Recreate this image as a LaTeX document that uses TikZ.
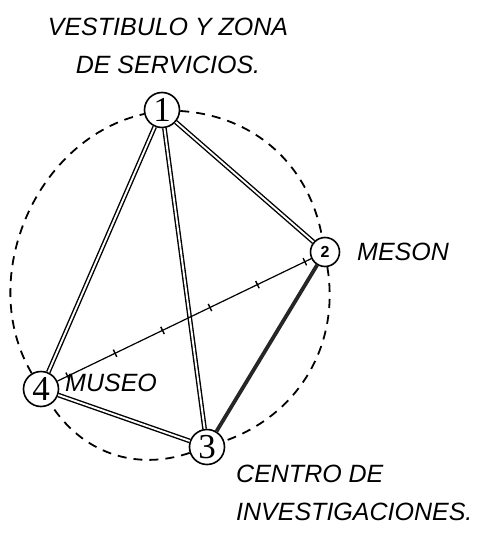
\documentclass[tikz,border=0pt]{standalone}
\usepackage{fontspec}
\setmainfont{Liberation Sans}
\newfontfamily\digitfont{Liberation Serif}
\usetikzlibrary{decorations.markings}

\begin{document}
\begin{tikzpicture}[
    x=1pt, y=-1pt,
    zone/.style={circle, draw, line width=1.6pt, fill=white, inner sep=0pt, minimum size=35pt, font=\digitfont\fontsize{35}{35}\selectfont},
    smallzone/.style={zone, minimum size=29pt, font=\bfseries\fontsize{16}{16}\selectfont},
    tag/.style={font=\itshape\fontsize{25}{38}\selectfont, inner sep=0pt},
    strong/.style={double, double distance=1.9pt, line width=1.4pt},
    heavy/.style={line width=3.8pt, black!85},
    weak/.style={line width=1.2pt, postaction={decorate}, decoration={markings, mark=between positions 0.04 and 0.98 step 0.187 with {\draw[line width=1.4pt] (0,-4pt) -- (0,4pt);}}},
    ring/.style={dash pattern=on 9pt off 7pt, line width=1.8pt}
  ]
    \useasboundingbox (0,0) rectangle (491,538);

    % Zonas
    \node[zone] (vestibulo) at (162,110) {1};
    \node[smallzone] (meson) at (325,252) {2};
    \node[zone] (centro) at (207,447) {3};
    \node[zone] (museo) at (41,389) {4};

    % Textos
    \node[tag, align=center] (vestibuloTag) at (168,46) {VESTIBULO Y ZONA\\DE SERVICIOS.};
    \node[tag, anchor=west] (mesonTag) at (357,252) {MESON};
    \node[tag, anchor=west] (museoTag) at (65,383) {MUSEO};
    \node[tag, align=left, anchor=north west] (centroTag) at (236,465) {CENTRO DE\\INVESTIGACIONES.};

    % Relaciones
    \draw[strong] (vestibulo) -- (museo);
    \draw[strong] (vestibulo) -- (centro);
    \draw[strong] (vestibulo) -- (meson);
    \draw[strong] (museo) -- (centro);
    \draw[heavy] (meson) -- (centro);
    \draw[weak] (museo) -- (meson);

    % Circulo punteado
    \draw[ring] (vestibulo) to[bend left=38] (meson);
    \draw[ring] (meson) to[bend left=40] (centro);
    \draw[ring] (centro) to[bend left=38] (museo);
    \draw[ring] (museo) to[bend left=54] (vestibulo);
  \end{tikzpicture}
\end{document}
